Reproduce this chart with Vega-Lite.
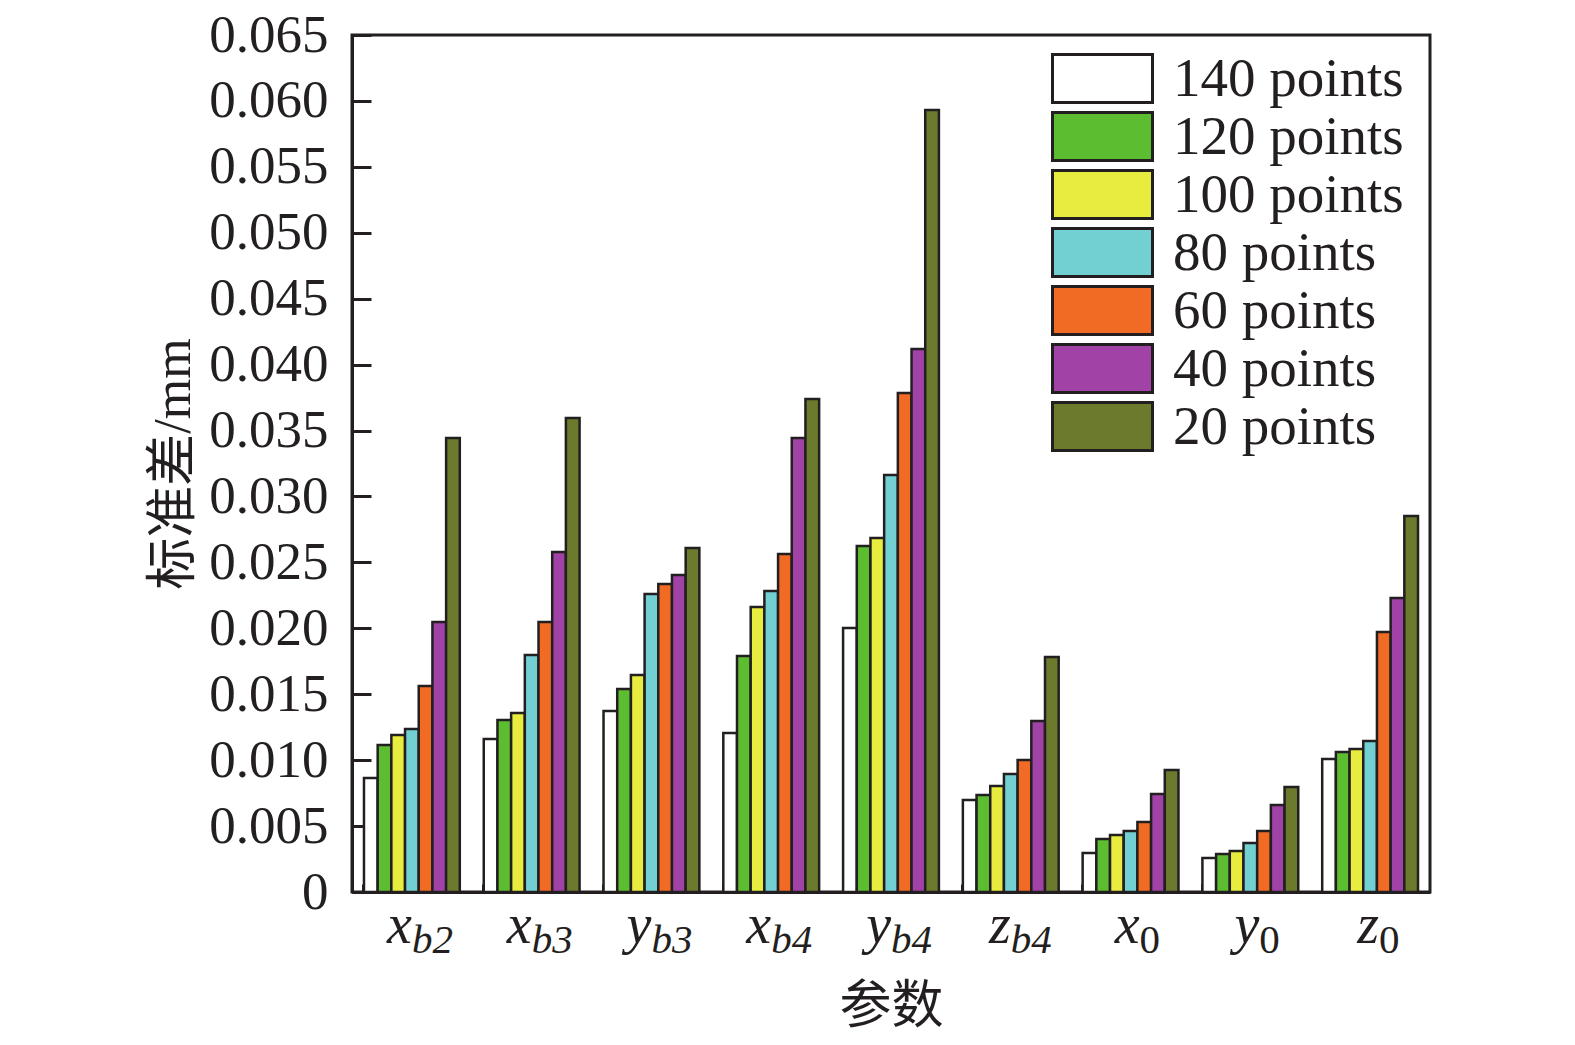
{
  "$schema": "https://vega.github.io/schema/vega-lite/v6.json",
  "width": 1078,
  "height": 857,
  "autosize": {"type": "none"},
  "padding": {"left": 352, "top": 35, "right": 145, "bottom": 153},
  "background": "white",
  "config": {
    "view": {"stroke": "#231f20", "strokeWidth": 3},
    "font": "Liberation Serif"
  },
  "datasets": {
    "bars": [
      {"param": "xb2", "n": "140 points", "v": 0.00865},
      {"param": "xb2", "n": "120 points", "v": 0.01115},
      {"param": "xb2", "n": "100 points", "v": 0.0119},
      {"param": "xb2", "n": "80 points", "v": 0.01236},
      {"param": "xb2", "n": "60 points", "v": 0.01562},
      {"param": "xb2", "n": "40 points", "v": 0.02048},
      {"param": "xb2", "n": "20 points", "v": 0.03443},
      {"param": "xb3", "n": "140 points", "v": 0.0116},
      {"param": "xb3", "n": "120 points", "v": 0.01305},
      {"param": "xb3", "n": "100 points", "v": 0.01358},
      {"param": "xb3", "n": "80 points", "v": 0.01798},
      {"param": "xb3", "n": "60 points", "v": 0.02048},
      {"param": "xb3", "n": "40 points", "v": 0.02579},
      {"param": "xb3", "n": "20 points", "v": 0.03595},
      {"param": "yb3", "n": "140 points", "v": 0.01373},
      {"param": "yb3", "n": "120 points", "v": 0.0154},
      {"param": "yb3", "n": "100 points", "v": 0.01646},
      {"param": "yb3", "n": "80 points", "v": 0.0226},
      {"param": "yb3", "n": "60 points", "v": 0.02336},
      {"param": "yb3", "n": "40 points", "v": 0.02404},
      {"param": "yb3", "n": "20 points", "v": 0.02609},
      {"param": "xb4", "n": "140 points", "v": 0.01206},
      {"param": "xb4", "n": "120 points", "v": 0.0179},
      {"param": "xb4", "n": "100 points", "v": 0.02162},
      {"param": "xb4", "n": "80 points", "v": 0.02283},
      {"param": "xb4", "n": "60 points", "v": 0.02564},
      {"param": "xb4", "n": "40 points", "v": 0.03443},
      {"param": "xb4", "n": "20 points", "v": 0.03739},
      {"param": "yb4", "n": "140 points", "v": 0.02002},
      {"param": "yb4", "n": "120 points", "v": 0.02624},
      {"param": "yb4", "n": "100 points", "v": 0.02685},
      {"param": "yb4", "n": "80 points", "v": 0.03163},
      {"param": "yb4", "n": "60 points", "v": 0.03785},
      {"param": "yb4", "n": "40 points", "v": 0.04118},
      {"param": "yb4", "n": "20 points", "v": 0.05931},
      {"param": "zb4", "n": "140 points", "v": 0.00698},
      {"param": "zb4", "n": "120 points", "v": 0.00736},
      {"param": "zb4", "n": "100 points", "v": 0.00804},
      {"param": "zb4", "n": "80 points", "v": 0.00895},
      {"param": "zb4", "n": "60 points", "v": 0.01001},
      {"param": "zb4", "n": "40 points", "v": 0.01297},
      {"param": "zb4", "n": "20 points", "v": 0.01782},
      {"param": "x0", "n": "140 points", "v": 0.00296},
      {"param": "x0", "n": "120 points", "v": 0.00402},
      {"param": "x0", "n": "100 points", "v": 0.00432},
      {"param": "x0", "n": "80 points", "v": 0.00463},
      {"param": "x0", "n": "60 points", "v": 0.00531},
      {"param": "x0", "n": "40 points", "v": 0.00743},
      {"param": "x0", "n": "20 points", "v": 0.00925},
      {"param": "y0", "n": "140 points", "v": 0.00258},
      {"param": "y0", "n": "120 points", "v": 0.00288},
      {"param": "y0", "n": "100 points", "v": 0.00311},
      {"param": "y0", "n": "80 points", "v": 0.00372},
      {"param": "y0", "n": "60 points", "v": 0.00463},
      {"param": "y0", "n": "40 points", "v": 0.0066},
      {"param": "y0", "n": "20 points", "v": 0.00796},
      {"param": "z0", "n": "140 points", "v": 0.01009},
      {"param": "z0", "n": "120 points", "v": 0.01062},
      {"param": "z0", "n": "100 points", "v": 0.01085},
      {"param": "z0", "n": "80 points", "v": 0.01145},
      {"param": "z0", "n": "60 points", "v": 0.01972},
      {"param": "z0", "n": "40 points", "v": 0.0223},
      {"param": "z0", "n": "20 points", "v": 0.02852}
    ],
    "labels": [
      {"param": "xb2", "main": "x", "sub": "b2"},
      {"param": "xb3", "main": "x", "sub": "b3"},
      {"param": "yb3", "main": "y", "sub": "b3"},
      {"param": "xb4", "main": "x", "sub": "b4"},
      {"param": "yb4", "main": "y", "sub": "b4"},
      {"param": "zb4", "main": "z", "sub": "b4"},
      {"param": "x0", "main": "x", "sub": "0"},
      {"param": "y0", "main": "y", "sub": "0"},
      {"param": "z0", "main": "z", "sub": "0"}
    ]
  },
  "layer": [
    {
      "data": {"name": "bars"},
      "mark": {"type": "bar", "stroke": "#231f20", "strokeWidth": 2.5},
      "encoding": {
        "x": {
          "field": "param",
          "type": "nominal",
          "sort": ["xb2", "xb3", "yb3", "xb4", "yb4", "zb4", "x0", "y0", "z0"],
          "scale": {"paddingInner": 0.2, "paddingOuter": 0.1},
          "axis": {
            "labels": false,
            "bandPosition": 0,
            "tickSize": -8,
            "tickWidth": 3,
            "tickColor": "#231f20",
            "domainColor": "#231f20",
            "domainWidth": 3,
            "title": "参数",
            "titleFont": "Liberation Serif, Noto Sans CJK SC",
            "titleFontSize": 52,
            "titleFontWeight": "normal",
            "titleColor": "#231f20",
            "titlePadding": 88
          }
        },
        "xOffset": {
          "field": "n",
          "type": "nominal",
          "sort": ["140 points", "120 points", "100 points", "80 points", "60 points", "40 points", "20 points"],
          "scale": {"paddingInner": 0, "paddingOuter": 0}
        },
        "y": {
          "field": "v",
          "type": "quantitative",
          "scale": {"domain": [0, 0.065], "nice": false},
          "axis": {
            "values": [0, 0.005, 0.01, 0.015, 0.02, 0.025, 0.03, 0.035, 0.04, 0.045, 0.05, 0.055, 0.06, 0.065],
            "labelExpr": "datum.value == 0 ? '0' : format(datum.value, '.3f')",
            "grid": false,
            "tickSize": -19,
            "tickWidth": 3,
            "tickColor": "#231f20",
            "domainColor": "#231f20",
            "domainWidth": 3,
            "labelFont": "Liberation Serif",
            "labelFontSize": 53,
            "labelColor": "#231f20",
            "labelPadding": 43,
            "labelFlush": false,
            "title": "标准差/mm",
            "titleFont": "Liberation Serif, Noto Sans CJK SC",
            "titleFontSize": 52,
            "titleFontWeight": "normal",
            "titleColor": "#231f20",
            "titlePadding": 8
          }
        },
        "fill": {
          "field": "n",
          "type": "nominal",
          "scale": {
            "domain": ["140 points", "120 points", "100 points", "80 points", "60 points", "40 points", "20 points"],
            "range": ["#ffffff", "#5dbd31", "#e8ec3e", "#73d0d2", "#f26b24", "#a042a6", "#6b7a2c"]
          },
          "legend": {
            "title": null,
            "orient": "none",
            "legendX": 723,
            "legendY": 16,
            "symbolType": "M-2,-0.96H2V0.96H-2Z",
            "symbolSize": 2500,
            "symbolStrokeColor": "#231f20",
            "symbolStrokeWidth": 3,
            "symbolOpacity": 1,
            "labelFont": "Liberation Serif",
            "labelFontSize": 55,
            "labelColor": "#231f20",
            "labelOffset": 43,
            "rowPadding": -8,
            "labelLimit": 400
          }
        }
      }
    },
    {
      "data": {"name": "labels"},
      "transform": [{"filter": "length(datum.sub) > 1"}],
      "mark": {"type": "text", "align": "right", "baseline": "alphabetic", "dy": 51, "dx": 0, "font": "Liberation Serif", "fontStyle": "italic", "fontSize": 56, "color": "#231f20"},
      "encoding": {
        "x": {"field": "param", "type": "nominal", "sort": ["xb2", "xb3", "yb3", "xb4", "yb4", "zb4", "x0", "y0", "z0"]},
        "y": {"datum": 0, "type": "quantitative"},
        "text": {"field": "main"}
      }
    },
    {
      "data": {"name": "labels"},
      "transform": [{"filter": "length(datum.sub) > 1"}],
      "mark": {"type": "text", "align": "left", "baseline": "alphabetic", "dy": 61, "dx": 0, "font": "Liberation Serif", "fontStyle": "italic", "fontSize": 41, "color": "#231f20"},
      "encoding": {
        "x": {"field": "param", "type": "nominal", "sort": ["xb2", "xb3", "yb3", "xb4", "yb4", "zb4", "x0", "y0", "z0"]},
        "y": {"datum": 0, "type": "quantitative"},
        "text": {"field": "sub"}
      }
    },
    {
      "data": {"name": "labels"},
      "transform": [{"filter": "length(datum.sub) == 1"}],
      "mark": {"type": "text", "align": "right", "baseline": "alphabetic", "dy": 51, "dx": 9, "font": "Liberation Serif", "fontStyle": "italic", "fontSize": 56, "color": "#231f20"},
      "encoding": {
        "x": {"field": "param", "type": "nominal", "sort": ["xb2", "xb3", "yb3", "xb4", "yb4", "zb4", "x0", "y0", "z0"]},
        "y": {"datum": 0, "type": "quantitative"},
        "text": {"field": "main"}
      }
    },
    {
      "data": {"name": "labels"},
      "transform": [{"filter": "length(datum.sub) == 1"}],
      "mark": {"type": "text", "align": "left", "baseline": "alphabetic", "dy": 61, "dx": 9, "font": "Liberation Serif", "fontStyle": "normal", "fontSize": 41, "color": "#231f20"},
      "encoding": {
        "x": {"field": "param", "type": "nominal", "sort": ["xb2", "xb3", "yb3", "xb4", "yb4", "zb4", "x0", "y0", "z0"]},
        "y": {"datum": 0, "type": "quantitative"},
        "text": {"field": "sub"}
      }
    }
  ]
}
